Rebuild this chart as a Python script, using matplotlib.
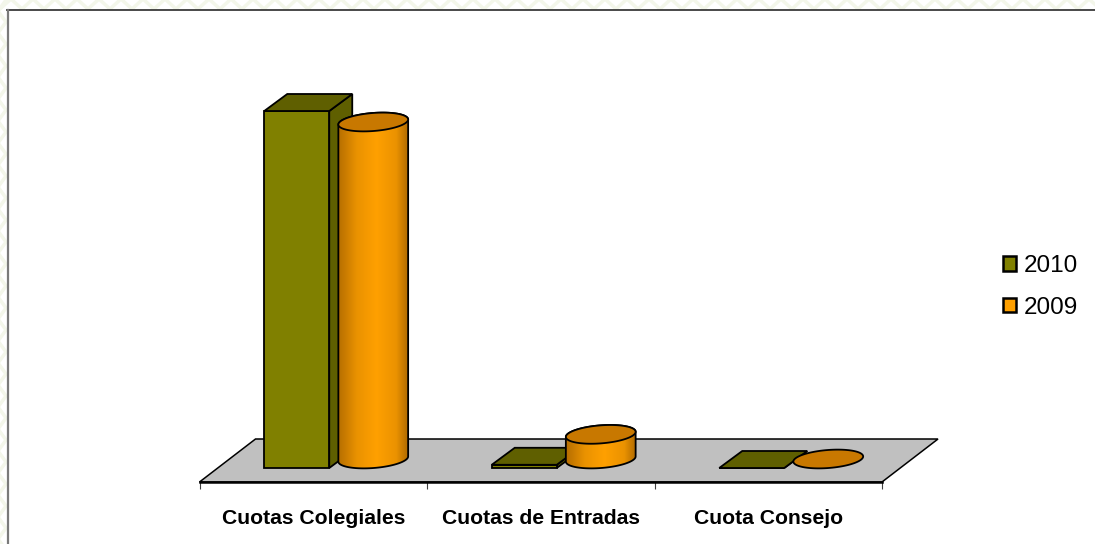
#!/usr/bin/env python3
"""Grouped pseudo-3D column chart, 2010 vs 2009 fee income."""
import matplotlib

matplotlib.use("Agg")
import matplotlib.pyplot as plt  # noqa: E402
import numpy as np  # noqa: E402
from matplotlib.colors import LinearSegmentedColormap  # noqa: E402
from matplotlib.lines import Line2D  # noqa: E402
from matplotlib.patches import Patch, Polygon, Rectangle  # noqa: E402

plt.rcParams["font.family"] = ["Liberation Sans", "DejaVu Sans"]

categories = ["Cuotas Colegiales", "Cuotas de Entradas", "Cuota Consejo"]
series_names = ["2010", "2009"]
# no value axis in the source, so values are relative to the tallest column
values_2010 = [100.0, 0.9, 0.0]
values_2009 = [94.4, 6.9, 0.0]

W, H = 1095, 544
OLIVE, OLIVE_DARK = "#808000", "#5f5f00"
ORANGE, ORANGE_DARK = "#ffa000", "#c87800"
FLOOR = "#c0c0c0"

fig = plt.figure(figsize=(W / 100, H / 100), dpi=100, facecolor="white")

# page backdrop: pale zigzag margin and the frame of the chart area
zig_color = "#f3f6ea"
xs = np.arange(-11, W + 22, 11)
ys = -1 + 10 * (np.arange(len(xs)) % 2)
fig.add_artist(Line2D(xs / W, 1 - ys / H, color=zig_color, lw=2.5, zorder=-3))
ys = np.arange(-11, H + 22, 11)
xs = -2 + 8 * (np.arange(len(ys)) % 2)
fig.add_artist(Line2D(xs / W, 1 - ys / H, color=zig_color, lw=2.5, zorder=-3))
fig.add_artist(Rectangle((7 / W, 0), 1 - 7 / W, 1 - 10 / H, transform=fig.transFigure,
                         facecolor="white", edgecolor="none", zorder=-2))
fig.add_artist(Line2D([7 / W, 1], [1 - 10 / H] * 2, color="#3a3a3a", lw=1.3, zorder=-1))
fig.add_artist(Line2D([7.5 / W] * 2, [0, 1 - 10 / H], color="#7a7a7a", lw=1.6, zorder=-1))

# floor front edge at y=482, value 100 at y=111, value 0 at y=468
ax = fig.add_axes([199.5 / W, (H - 482) / H, (882 - 199.5) / W, (482 - 111) / H])
ax.patch.set_alpha(0)
ax.set_xlim(-0.5, 2.5)
ax.set_ylim(-14 / 3.57, 100)
px_x = 3 / (882 - 199.5)
px_y = 100 / 357

for side in ("top", "left", "right"):
    ax.spines[side].set_visible(False)
ax.spines["bottom"].set_linewidth(1.8)
ax.spines["bottom"].set_zorder(2)
ax.set_yticks([])
x = np.arange(len(categories))
ax.set_xticks(x, categories, fontsize=15.2, fontweight="bold")
ax.tick_params(axis="x", which="major", length=0, pad=19.5)
ax.set_xticks(np.arange(-0.5, 3), minor=True)
ax.tick_params(axis="x", which="minor", length=5, width=0.8, color="#404040")

y_front = ax.get_ylim()[0]
ax.add_patch(Polygon(
    [(-0.5, y_front), (2.5, y_front),
     (2.5 + 56 * px_x, y_front + 43 * px_y), (-0.5 + 56 * px_x, y_front + 43 * px_y)],
    closed=True, facecolor=FLOOR, edgecolor="black", lw=1.1, zorder=1, clip_on=False))

# 2010 columns: boxes
bar_w = 65 * px_x
bar_x = x - 16.5 * px_x
depth_x, depth_y = 23 * px_x, 17 * px_y
ax.bar(bar_x, values_2010, width=bar_w, color=OLIVE, edgecolor="black", linewidth=1.3,
       zorder=4, clip_on=False)
for cx, v in zip(bar_x, values_2010):
    l, r = cx - bar_w / 2, cx + bar_w / 2
    ax.add_patch(Polygon([(r, 0), (r + depth_x, depth_y), (r + depth_x, v + depth_y), (r, v)],
                         facecolor=OLIVE_DARK, edgecolor="black", lw=1.3, zorder=3, clip_on=False))
    ax.add_patch(Polygon([(l, v), (r, v), (r + depth_x, v + depth_y), (l + depth_x, v + depth_y)],
                         facecolor=OLIVE_DARK, edgecolor="black", lw=1.3, zorder=4.5, clip_on=False))


def tilted_ellipse(cx, cy, t):
    """Points of a cylinder cap, 35x9 px, tilted up to the right a little."""
    a, b, tilt = 35.0, 9.0, np.radians(4.5)
    ex = a * np.cos(t) * np.cos(tilt) - b * np.sin(t) * np.sin(tilt)
    ey = a * np.cos(t) * np.sin(tilt) + b * np.sin(t) * np.cos(tilt)
    return np.column_stack([cx + ex * px_x, cy + ey * px_y])


# 2009 columns: cylinders with a horizontal shading gradient
shade = LinearSegmentedColormap.from_list(
    "cyl", [(0, "#b06a00"), (0.28, "#ea9200"), (0.55, ORANGE), (0.82, "#ea9200"), (1, "#a86400")])
cyl_w = 70 * px_x
cyl_x = x + 60 * px_x
cyl_base = 9 * px_y
grad = np.linspace(0, 1, 128).reshape(1, -1)
for i, (cx, v) in enumerate(zip(cyl_x, values_2009)):
    z = 5 + i
    l, r = cx - cyl_w / 2, cx + cyl_w / 2
    y0, y1 = cyl_base, cyl_base + v
    if v > 0:
        lower = tilted_ellipse(cx, y0, np.linspace(np.pi, 2 * np.pi, 60))
        upper = tilted_ellipse(cx, y1, np.linspace(0, np.pi, 60))
        body = Polygon(np.vstack([lower, upper]), closed=True, facecolor="none",
                       edgecolor="black", lw=1.3, zorder=z + 0.2, clip_on=False)
        im = ax.imshow(grad, extent=(l - 2 * px_x, r + 2 * px_x, y0 - 14 * px_y, y1 + 14 * px_y),
                       cmap=shade, aspect="auto", zorder=z, interpolation="bilinear")
        ax.add_patch(body)
        im.set_clip_path(body)
    cap = tilted_ellipse(cx, y1, np.linspace(0, 2 * np.pi, 120))
    ax.add_patch(Polygon(cap, closed=True, facecolor=ORANGE_DARK, edgecolor="black",
                         lw=1.3, zorder=z + 0.4, clip_on=False))
ax.set_xlim(-0.5, 2.5)
ax.set_ylim(y_front, 100)

handles = [Patch(facecolor=c, edgecolor="black", linewidth=1.8) for c in (OLIVE, ORANGE)]
fig.legend(handles, series_names, loc="center left",
           bbox_to_anchor=(1003 / W, 1 - 287 / H), frameon=False, fontsize=17.5,
           handlelength=0.55, handleheight=0.55, handletextpad=0.3, labelspacing=0.8,
           borderpad=0, borderaxespad=0)

fig.savefig("out.png", dpi=100)
plt.close(fig)
